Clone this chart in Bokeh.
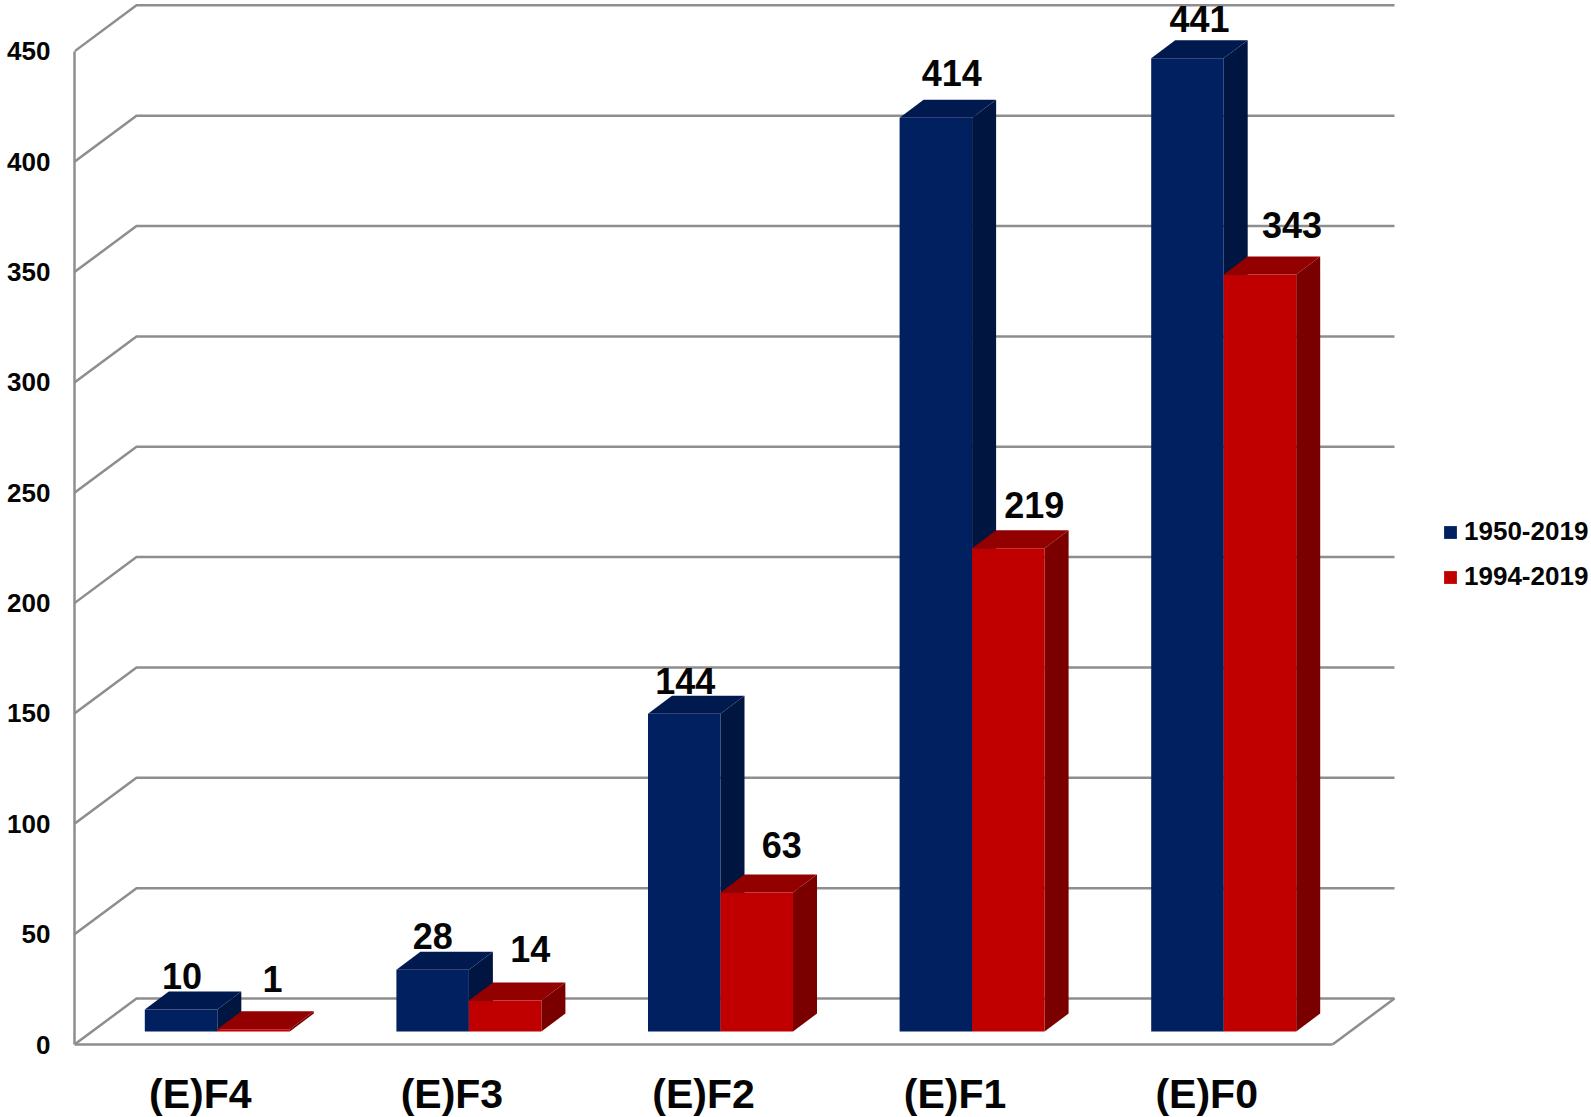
from bokeh.plotting import figure
from bokeh.models import ColumnDataSource, FixedTicker, Legend, LegendItem
from bokeh.core.properties import value
from bokeh.embed import file_html
from bokeh.resources import INLINE

categories = ["(E)F4", "(E)F3", "(E)F2", "(E)F1", "(E)F0"]
series_names = ["1950-2019", "1994-2019"]
values_1950 = [10, 28, 144, 414, 441]
values_1994 = [1, 14, 63, 219, 343]
y_ticks = [0, 50, 100, 150, 200, 250, 300, 350, 400, 450]

FONT = "Liberation Sans"
W, H = 1591, 1117
LEFT, BOTTOM = 74, 73
PX_X = 251.6            # pixels per category
PX_Y = 2.207            # pixels per count
px = lambda v: v / PX_X
py = lambda v: v / PX_Y

WALL_X, WALL_Y = px(62), py(46)
BAR_X, BAR_Y = px(17), py(13)
DEPTH_X, DEPTH_Y = px(24), py(18)
BAR_W = px(72.5)
GRID = "#8e8e8e"

p = figure(width=W, height=H, output_backend="svg", toolbar_location=None,
           x_range=(0, (W - LEFT) / PX_X), y_range=(-BOTTOM / PX_Y, (H - BOTTOM) / PX_Y),
           min_border_left=LEFT, min_border_bottom=0, min_border_top=0, min_border_right=0,
           outline_line_color=None, background_fill_color="white")
p.grid.visible = False

# axes
for ax in (p.xaxis[0], p.yaxis[0]):
    ax.axis_line_color = GRID
    ax.axis_line_width = 2.5
    ax.major_tick_line_color = None
    ax.minor_tick_line_color = None
    ax.major_label_text_font = FONT
    ax.major_label_text_font_style = "bold"
    ax.major_label_text_color = "#050505"

p.yaxis.ticker = FixedTicker(ticks=y_ticks)
p.yaxis.bounds = (0, y_ticks[-1])
p.yaxis.major_label_text_font_size = "26px"
p.yaxis.major_label_standoff = 18

n = len(categories)
p.xaxis.ticker = FixedTicker(ticks=[i + 0.5 for i in range(n)])
p.xaxis.major_label_overrides = {i + 0.5: c for i, c in enumerate(categories)}
p.xaxis.bounds = (0, n)
p.xaxis.fixed_location = 0
p.xaxis.major_label_text_font_size = "41px"
p.xaxis.major_label_standoff = 20

# walls: each level runs up the side wall, then along the back wall
xs, ys = [], []
for t in y_ticks:
    xs.append([0, WALL_X, n + WALL_X])
    ys.append([t, t + WALL_Y, t + WALL_Y])
xs.append([n, n + WALL_X])
ys.append([0, WALL_Y])
p.multi_line(xs, ys, line_color=GRID, line_width=2.5, line_join="miter")

# 3-D bars
colors = [("#002060", "#001a4f", "#00153f"), ("#c00000", "#930000", "#7a0000")]
fronts = []
for s, vals in enumerate([values_1950, values_1994]):
    front_c, top_c, side_c = colors[s]
    left = [i + 0.5 + BAR_X + (s - 1) * BAR_W for i in range(n)]
    right = [l + BAR_W for l in left]
    tops = [BAR_Y + v for v in vals]
    side_x = [[r, r + DEPTH_X, r + DEPTH_X, r] for r in right]
    side_y = [[BAR_Y, BAR_Y + DEPTH_Y, t + DEPTH_Y, t] for t in tops]
    p.patches(side_x, side_y, fill_color=side_c, line_color=None)
    top_x = [[l, l + DEPTH_X, r + DEPTH_X, r] for l, r in zip(left, right)]
    top_y = [[t, t + DEPTH_Y, t + DEPTH_Y, t] for t in tops]
    p.patches(top_x, top_y, fill_color=top_c, line_color=None)
    fronts.append(p.quad(left=left, right=right, bottom=BAR_Y, top=tops,
                         fill_color=front_c, line_color=None))

# value labels, with the hand-placed nudges the original has
nudge_x = [[-11, -12, -11, 4, 0], [7, 13, 13, 14, 20]]
nudge_y = [[15, 16, 15, 27, 21], [32, 34, 29, 25, 31]]
for s, vals in enumerate([values_1950, values_1994]):
    src = ColumnDataSource(dict(
        x=[i + 0.5 + BAR_X + (s - 0.5) * BAR_W + DEPTH_X / 2 for i in range(n)],
        y=[BAR_Y + v + DEPTH_Y for v in vals],
        t=[str(v) for v in vals],
        dx=nudge_x[s], dy=[-d for d in nudge_y[s]]))
    p.text("x", "y", text="t", source=src, x_offset="dx", y_offset="dy",
           text_font=value(FONT), text_font_style="bold", text_font_size="36px",
           text_align="center", text_baseline="middle", text_color="#050505")

legend = Legend(items=[LegendItem(label=series_names[i], renderers=[fronts[i]]) for i in range(2)],
                location=(1368, 525), orientation="vertical",
                glyph_width=16, glyph_height=16, label_standoff=6, spacing=14,
                padding=0, margin=0, border_line_color=None, background_fill_color=None,
                label_text_font=FONT, label_text_font_style="bold", label_text_font_size="26px",
                label_text_color="#050505", label_height=26)
p.add_layout(legend, "center")

open("out.html", "w").write(file_html(p, INLINE))
